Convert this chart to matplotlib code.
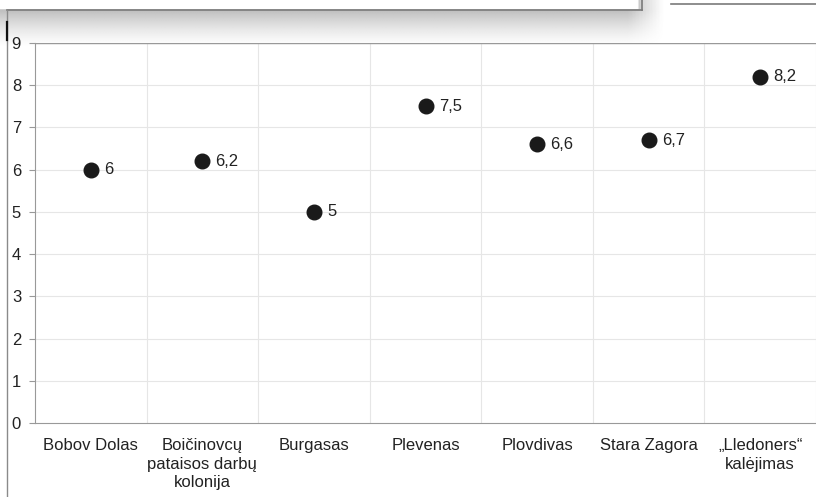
import matplotlib.pyplot as plt
import numpy as np
from matplotlib.lines import Line2D

plt.rcParams['font.family'] = ['Liberation Sans', 'DejaVu Sans']

# Data
categories = ["Bobov Dolas", "Boičinovcų\npataisos darbų\nkolonija", "Burgasas",
              "Plevenas", "Plovdivas", "Stara Zagora", "„Lledoners“\nkalėjimas"]
values = [6, 6.2, 5, 7.5, 6.6, 6.7, 8.2]
value_labels = ["6", "6,2", "5", "7,5", "6,6", "6,7", "8,2"]

W, H = 816, 497
fig = plt.figure(figsize=(W / 100, H / 100), dpi=100)

# Shadow under the cropped box at the top
shadow_ax = fig.add_axes([0, 1 - 48 / H, 680 / W, 48 / H])
shadow_ax.set_axis_off()
yy = np.linspace(0, 1, 60)[:, None]
xx = np.linspace(0, 1, 200)[None, :]
fade_y = np.clip(1 - (yy - 10 / 48) / (38 / 48), 0, 1)
fade_x = np.clip((680 - xx * 680 - 15) / 35, 0, 1)
shade = 0.42 * fade_y ** 1.4 * fade_x
img = np.ones((60, 200, 4))
img[..., :3] = 0.4
img[..., 3] = shade
img[: int(60 * 10 / 48), :int(200 * 642 / 680)] = [1, 1, 1, 1]
shadow_ax.imshow(img, extent=[0, 1, 0, 1], origin='upper', aspect='auto')
shadow_ax.set_xlim(0, 1)
shadow_ax.set_ylim(0, 1)

# Box edges and frame lines
fig.add_artist(Line2D([7 / W, 642 / W], [1 - 10 / H, 1 - 10 / H], color='#7a7a7a', lw=1.2))
fig.add_artist(Line2D([642 / W, 642 / W], [1 - 10 / H, 1], color='#7a7a7a', lw=1.2))
fig.add_artist(Line2D([671 / W, 1], [1 - 4 / H, 1 - 4 / H], color='#7a7a7a', lw=1.2))
fig.add_artist(Line2D([7 / W, 7 / W], [0, 1 - 10 / H], color='#8a8a8a', lw=1.0))
fig.add_artist(Line2D([7 / W, 7 / W], [1 - 40 / H, 1 - 22 / H], color='#111111', lw=1.6))

# Main chart
ax = fig.add_axes([35 / W, 1 - 423 / H, (W - 35) / W, 380 / H])
x = np.arange(len(categories))
ax.plot(x, values, 'o', color='#1a1a1a', markersize=10.5, zorder=3)
for xi, v, lab in zip(x, values, value_labels):
    ax.annotate(lab, (xi, v), xytext=(9.5, 0), textcoords='offset points',
                va='center', ha='left', fontsize=12, color='#222222')

ax.set_xlim(-0.5, len(categories) - 0.5)
ax.set_ylim(0, 9)
ax.set_yticks(range(10))
ax.set_xticks(x)
ax.set_xticklabels(categories, fontsize=12, color='#222222', linespacing=1.3)
ax.tick_params(axis='x', length=0, pad=11)
ax.tick_params(axis='y', length=4, color='#999999', labelsize=12, labelcolor='#222222', pad=6)
for yv in range(1, 10):
    ax.axhline(yv, color='#e6e6e6', lw=0.8, zorder=0)
for xb in np.arange(0.5, len(categories), 1.0):
    ax.axvline(xb, color='#e6e6e6', lw=0.8, zorder=0)
for s in ['top', 'right']:
    ax.spines[s].set_visible(False)
ax.spines['left'].set_color('#999999')
ax.spines['bottom'].set_color('#999999')
ax.axhline(9, color='#999999', lw=1.0)

fig.savefig('out.png', dpi=100)
